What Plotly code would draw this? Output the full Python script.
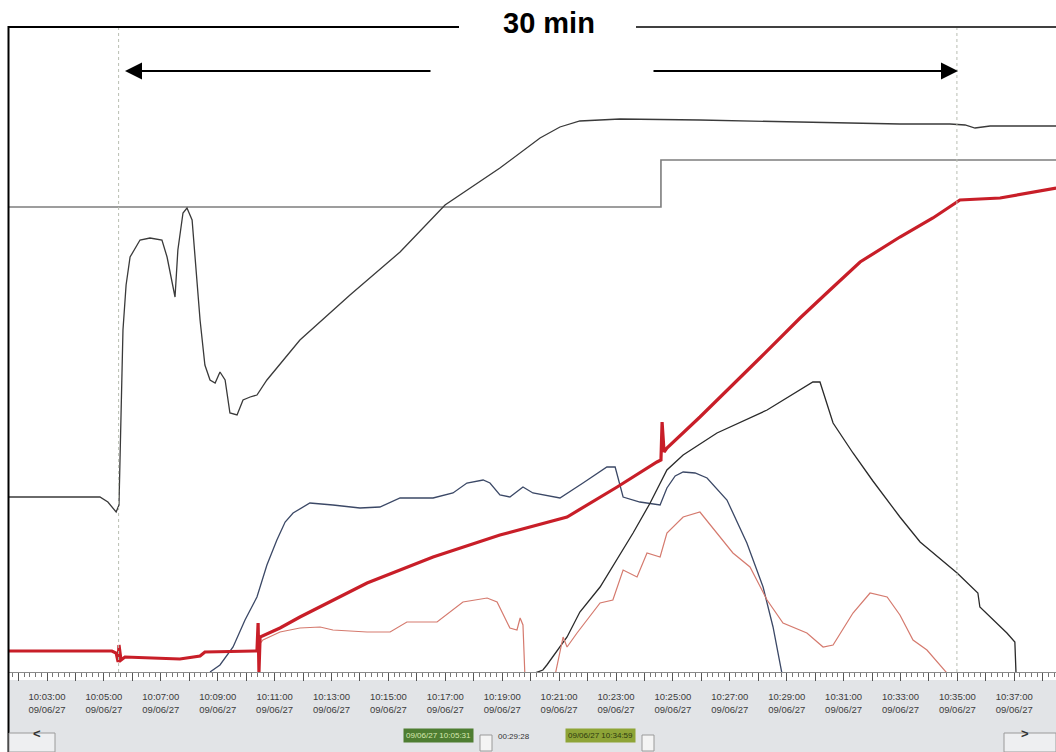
import pandas as pd
import plotly.graph_objects as go

BASE = pd.Timestamp("2009-06-27 10:00:00")

# ---------------- data (time in minutes after 10:00:00, level in arbitrary units 0..644) -------------
setpoint_min = [1.63, 24.58, 38.47]
setpoint_val = [465, 512, 512]

upper_min = [1.63, 4.86, 5.14, 5.43, 5.53, 5.60, 5.67, 5.78, 5.92, 6.27, 6.62, 7.04, 7.22, 7.50,
             7.60, 7.78, 7.92, 8.10, 8.38, 8.55, 8.73, 8.91, 9.08, 9.26, 9.43, 9.68, 9.89, 10.14,
             10.38, 10.73, 11.30, 11.89, 13.65, 15.41, 16.99, 18.92, 20.33, 21.03, 21.73, 23.14,
             25.95, 27.71, 29.47, 32.98, 34.74, 35.27, 35.62, 36.15, 38.47]
upper_val = [175, 175, 170, 160, 167, 252, 342, 387, 415, 432, 434, 432, 415, 375,
             422, 459, 464, 452, 352, 307, 292, 289, 300, 292, 259, 257, 272, 275,
             277, 292, 312, 332, 377, 420, 467, 504, 534, 545, 551, 553,
             552, 551, 550, 548, 548, 547, 544, 546, 546]

red_min = [1.63, 5.28, 5.43, 5.50, 5.53, 5.60, 5.74, 6.62, 7.67, 8.38, 8.55, 10.31, 10.38, 10.42,
           10.45, 10.49, 11.19, 11.89, 14.25, 16.57, 18.92, 21.28, 23.04, 24.44, 24.58, 24.62,
           24.69, 24.79, 25.95, 28.06, 29.47, 30.52, 31.58, 32.98, 34.14, 35.09, 36.50, 38.47]
red_val = [21, 21, 19, 10, 27, 12, 15, 14, 13, 16, 20, 21, 21, 49,
           0, 35, 44, 55, 89, 115, 137, 155, 185, 210, 212, 250,
           220, 224, 255, 314, 354, 382, 410, 435, 454, 472, 474, 484]

blue_min = [8.73, 9.08, 9.54, 9.96, 10.38, 10.73, 11.08, 11.37, 11.65, 12.24, 13.05, 14.00, 14.70,
            15.41, 16.57, 17.27, 17.76, 18.33, 18.57, 18.92, 19.27, 19.73, 20.08, 21.03, 21.84,
            22.68, 22.97, 23.25, 23.84, 24.55, 24.79, 25.08, 25.36, 25.78, 26.20, 26.90, 27.60,
            28.17, 28.52, 28.76, 28.83]
blue_val = [0, 7, 25, 52, 75, 107, 132, 150, 159, 169, 167, 164, 165,
            174, 174, 179, 189, 192, 189, 177, 175, 185, 179, 174, 189,
            205, 205, 175, 170, 167, 184, 196, 200, 199, 194, 172, 129,
            85, 45, 12, -1]

black_min = [20.15, 20.43, 20.57, 21.28, 21.73, 22.44, 23.60, 24.20, 24.79, 25.36, 26.55, 28.31,
             29.92, 30.17, 30.63, 31.33, 32.03, 32.98, 33.69, 34.99, 35.72, 35.79, 36.74, 37.02,
             37.06]
black_val = [-1, 2, 7, 35, 60, 85, 139, 169, 202, 217, 239, 262,
             290, 290, 249, 219, 191, 155, 130, 99, 79, 65, 39, 30,
             -1]

thin_min = [10.45, 10.59, 11.19, 11.89, 12.60, 13.05, 14.25, 15.06, 15.65, 16.71, 17.62, 18.47,
            18.82, 19.27, 19.52, 19.63, 19.73, 19.80, 20.86, 21.03, 21.14, 21.28, 21.63, 22.44,
            22.89, 23.25, 23.74, 24.09, 24.55, 24.79, 25.36, 25.95, 26.55, 27.11, 27.71, 28.31,
            28.87, 29.71, 30.28, 30.63, 31.33, 31.93, 32.53, 32.98, 33.44, 33.93, 34.63]
thin_val = [27, 32, 40, 44, 45, 42, 40, 40, 50, 50, 70, 74,
            70, 44, 42, 54, 47, -5, -3, 22, 35, 25, 39, 69,
            72, 102, 95, 119, 115, 139, 155, 160, 139, 119, 105, 72,
            49, 39, 25, 27, 59, 79, 75, 57, 32, 22, -1]

cursor_min = [5 + 31 / 60, 34 + 59 / 60]
cursor_text = ["09/06/27 10:05:31", "09/06/27 10:34:59"]
span_text = "00:29:28"

tick_minutes = list(range(2, 39))
label_minutes = list(range(3, 38, 2))
date_label = "09/06/27"
x_range_min = [1.629, 38.466]


def t(mins):
    return [BASE + pd.Timedelta(minutes=m) for m in mins]


tick_vals = t(tick_minutes)
tick_text = [(f"{ts:%H:%M:%S}<br>{date_label}" if m in label_minutes else "")
             for m, ts in zip(tick_minutes, tick_vals)]

fig = go.Figure()

series = [
    (setpoint_min, setpoint_val, "#7d7d7d", 1.6, "hv"),
    (upper_min, upper_val, "#3a3a3a", 1.3, "linear"),
    (blue_min, blue_val, "#3b4866", 1.3, "linear"),
    (black_min, black_val, "#2a2a2a", 1.3, "linear"),
    (thin_min, thin_val, "#d57a6e", 1.2, "linear"),
    (red_min, red_val, "#c81e28", 3.2, "linear"),
]
for xs, ys, col, w, shp in series:
    fig.add_trace(go.Scatter(x=t(xs), y=ys, mode="lines",
                             line=dict(color=col, width=w, shape=shp),
                             hoverinfo="skip", showlegend=False))

# cursor markers on the time strip
fig.add_trace(go.Scatter(x=t(cursor_min), y=[-6, -6], mode="markers",
                         marker=dict(symbol="triangle-up", size=8, color="#6b8e4e"),
                         cliponaxis=False, hoverinfo="skip", showlegend=False))

W, H = 1056, 752
L, T, B = 8, 28, 80
PW, PH = W - L, H - T - B


def px(xp):
    return (xp - L) / PW


def py(yp):
    return (H - B - yp) / PH


shapes = []
for cm in cursor_min:
    shapes.append(dict(type="line", xref="x", yref="paper", x0=t([cm])[0], x1=t([cm])[0],
                       y0=0, y1=1, line=dict(color="#b9beb2", width=1, dash="dot")))

shapes += [
    # gray control panel
    dict(type="rect", xref="paper", yref="paper", x0=0, x1=1, y0=py(752), y1=py(680),
         fillcolor="#e2e4e7", line=dict(width=0), layer="below"),
    # frame: left top segment + left border as one path
    dict(type="path", xref="paper", yref="paper",
         path=f"M {px(459):.5f},{py(27):.5f} L {px(8.5):.5f},{py(27):.5f} L {px(8.5):.5f},{py(752):.5f}",
         line=dict(color="black", width=2)),
    dict(type="line", xref="paper", yref="paper", x0=px(636), x1=1, y0=py(27), y1=py(27),
         line=dict(color="black", width=1.5)),
    # buttons
    dict(type="rect", xref="paper", yref="paper", x0=px(9), x1=px(55), y0=py(752), y1=py(733),
         fillcolor="#eeeff1", line=dict(color="#9a9a9a", width=1)),
    dict(type="rect", xref="paper", yref="paper", x0=px(1004), x1=1, y0=py(752), y1=py(733),
         fillcolor="#eeeff1", line=dict(color="#9a9a9a", width=1)),
    dict(type="rect", xref="paper", yref="paper", x0=px(480), x1=px(492), y0=py(751), y1=py(735),
         fillcolor="#f4f4f4", line=dict(color="#9a9a9a", width=1)),
    dict(type="rect", xref="paper", yref="paper", x0=px(642), x1=px(654), y0=py(751), y1=py(735),
         fillcolor="#f4f4f4", line=dict(color="#9a9a9a", width=1)),
]

annotations = [
    dict(text="<b>30 min</b>", x=px(549), y=py(23), xref="paper", yref="paper",
         showarrow=False, font=dict(family="Liberation Sans", size=29, color="black"),
         xanchor="center", yanchor="middle"),
    dict(text="", x=px(125), y=py(71), xref="paper", yref="paper", showarrow=True,
         ax=307, ay=0, arrowhead=2, arrowsize=1.7, arrowwidth=2, arrowcolor="black"),
    dict(text="", x=px(958), y=py(71), xref="paper", yref="paper", showarrow=True,
         ax=-306, ay=0, arrowhead=2, arrowsize=1.7, arrowwidth=2, arrowcolor="black"),
    dict(text="<b>&lt;</b>", x=px(31), y=py(743), xref="paper", yref="paper", showarrow=False,
         font=dict(family="Liberation Sans", size=13, color="#333")),
    dict(text="<b>&gt;</b>", x=px(1031), y=py(743), xref="paper", yref="paper", showarrow=False,
         font=dict(family="Liberation Sans", size=13, color="#333")),
    dict(text=cursor_text[0], x=px(438), y=py(743), xref="paper", yref="paper", showarrow=False,
         bgcolor="#4e7d32", borderpad=2,
         font=dict(family="Liberation Sans", size=8, color="#d8e8b0")),
    dict(text=span_text, x=px(514), y=py(743), xref="paper", yref="paper", showarrow=False,
         font=dict(family="Liberation Sans", size=8, color="#333")),
    dict(text=cursor_text[1], x=px(600), y=py(743), xref="paper", yref="paper", showarrow=False,
         bgcolor="#8ea437", borderpad=2,
         font=dict(family="Liberation Sans", size=8, color="#2d3a10")),
]

fig.update_layout(
    width=W, height=H, autosize=False,
    margin=dict(l=L, r=0, t=T, b=B, pad=0),
    paper_bgcolor="white", plot_bgcolor="white",
    showlegend=False, hovermode=False,
    shapes=shapes, annotations=annotations,
    xaxis=dict(
        type="date", range=t(x_range_min), showgrid=False, zeroline=False,
        showline=True, linecolor="#8a8a8a", linewidth=1,
        ticks="outside", ticklen=8, tickcolor="#555", tickwidth=1,
        tickvals=tick_vals, ticktext=tick_text, ticklabelstandoff=8,
        tickfont=dict(family="Liberation Sans", size=9.5, color="#3c3c3c"),
        minor=dict(dtick=12000, ticks="outside", ticklen=4, tickcolor="#777", showgrid=False),
        fixedrange=True,
    ),
    yaxis=dict(visible=False, range=[0, 644], fixedrange=True),
)

fig.write_html("out.html", config={"displayModeBar": False},
               post_script="document.body.style.margin='0px';document.body.style.overflow='hidden';")
